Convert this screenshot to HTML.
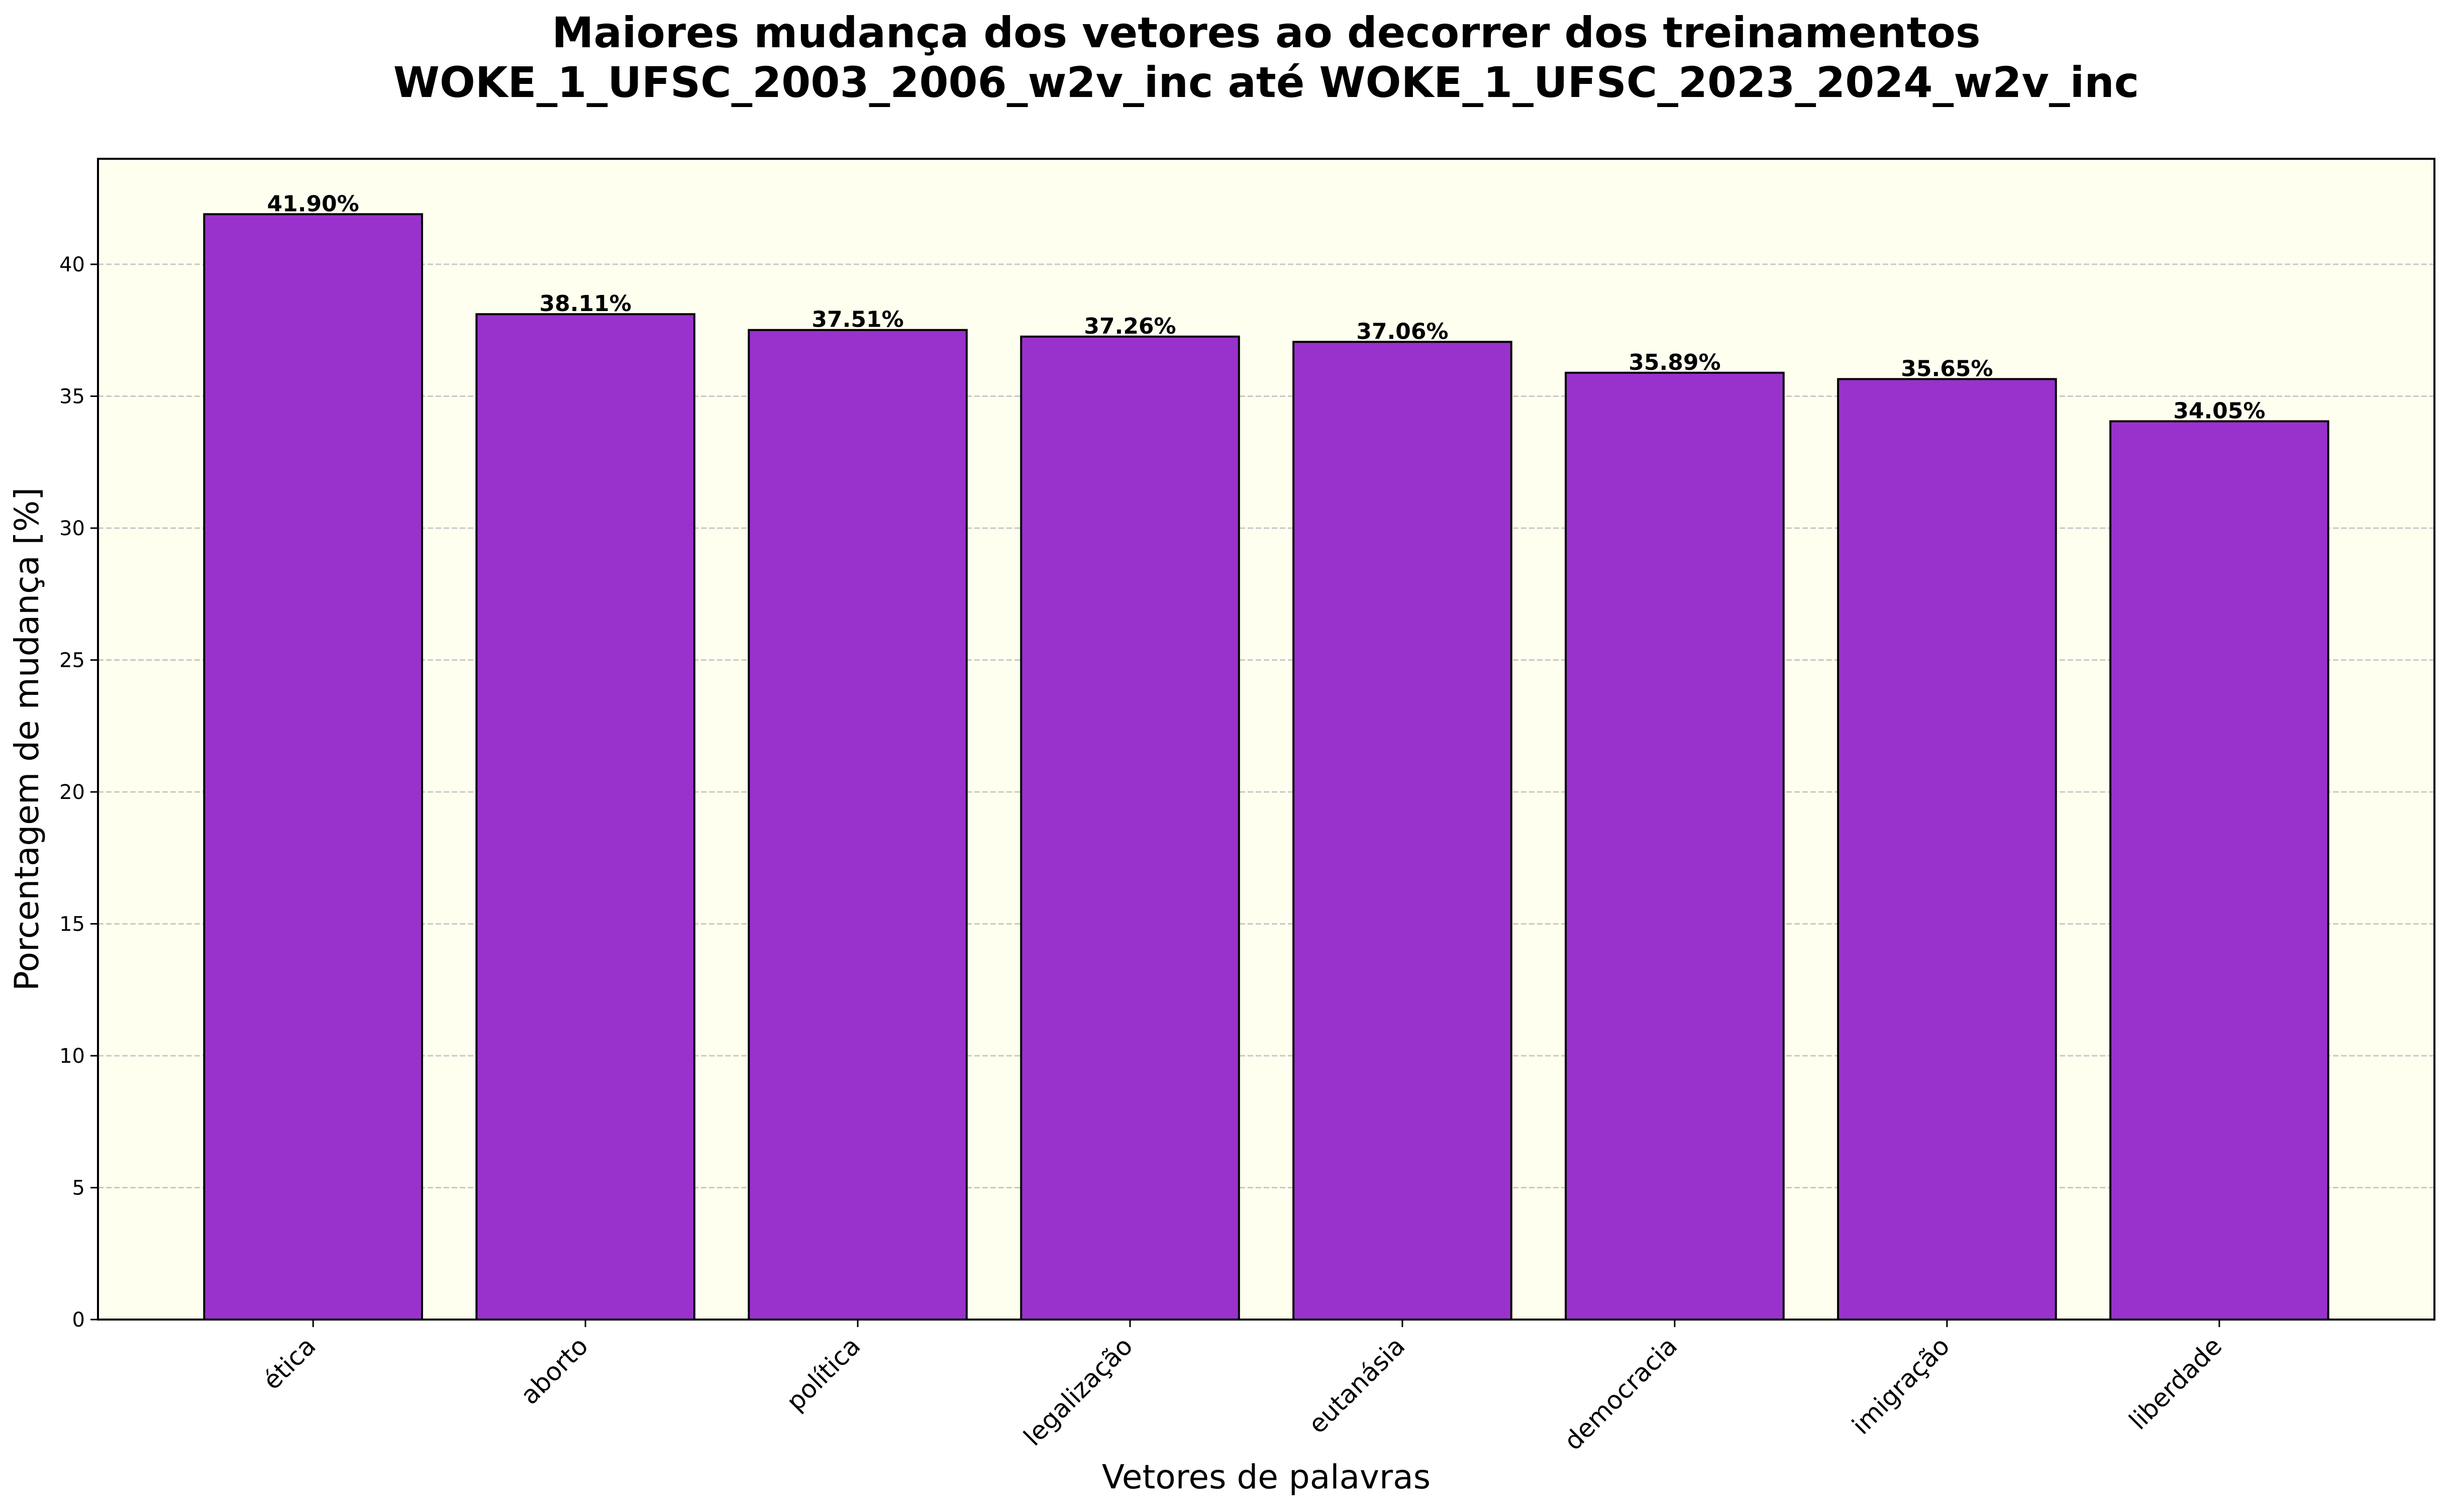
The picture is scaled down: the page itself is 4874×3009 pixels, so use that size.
<!DOCTYPE html>
<html><head><meta charset="utf-8"><style>
html,body{margin:0;padding:0;background:#fff;}
svg{display:block;font-family:"DejaVu Sans","Liberation Sans",sans-serif;}
</style></head><body>
<svg id="chart" width="4874" height="3009" viewBox="0 0 4874 3009" xmlns="http://www.w3.org/2000/svg">
<g font-weight="bold" font-size="83.5" text-anchor="middle">
<text x="2520" y="94">Maiores mudança dos vetores ao decorrer dos treinamentos</text>
<text x="2520" y="193">WOKE_1_UFSC_2003_2006_w2v_inc até WOKE_1_UFSC_2023_2024_w2v_inc</text>
</g>
<rect x="195" y="316" width="4650" height="2310" fill="#fffff0"/>
<g id="grid"></g>
<g id="bars"></g>
<g id="labels"></g>
<rect x="195" y="316" width="4650" height="2310" fill="none" stroke="#000" stroke-width="4"/>
<g id="yticks"></g>
<g id="xticks"></g>
<text transform="translate(76,1471) rotate(-90)" text-anchor="middle" font-size="66">Porcentagem de mudança [%]</text>
<text x="2520" y="2962" text-anchor="middle" font-size="66">Vetores de palavras</text>
</svg>
<script>
const categories = ["ética","aborto","política","legalização","eutanásia","democracia","imigração","liberdade"];
const values = [41.90,38.11,37.51,37.26,37.06,35.89,35.65,34.05];
const yTicks = [0,5,10,15,20,25,30,35,40];
const NS="http://www.w3.org/2000/svg";
const L=195,R=4845,T=316,B=2626,yMax=44;
const xMin=-0.79,xMax=categories.length-1+0.79;
const x=i=>L+(i-xMin)/(xMax-xMin)*(R-L);
const y=v=>B-v/yMax*(B-T);
const bw=(x(0.8)-x(0));
function mk(tag,attrs,parent){const e=document.createElementNS(NS,tag);for(const k in attrs)e.setAttribute(k,attrs[k]);document.getElementById(parent).appendChild(e);return e;}
yTicks.forEach(t=>{
  if(t>0){const g=mk('line',{x1:L,x2:R,y1:y(t),y2:y(t),stroke:'#c8c8c8','stroke-width':3,'stroke-dasharray':'11,5'},'grid');
  
  }
  const tk=mk('line',{x1:L-15,x2:L,y1:y(t),y2:y(t),stroke:'#000','stroke-width':3},'yticks');
  
  
  const tl=mk('text',{x:L-26,y:y(t)+14,'text-anchor':'end','font-size':40},'yticks');
  tl.textContent=t;
  
  
});
categories.forEach((c,i)=>{
  const v=values[i];
  const b=mk('rect',{x:x(i)-bw/2,y:y(v),width:bw,height:B-y(v),fill:'#9932cc',stroke:'#000','stroke-width':4},'bars');
  
  
  const lb=mk('text',{x:x(i),y:y(v)-6,'text-anchor':'middle','font-size':44,'font-weight':'bold'},'labels');
  lb.textContent=v.toFixed(2)+'%';
  
  
  const tk=mk('line',{x1:x(i),x2:x(i),y1:B,y2:B+15,stroke:'#000','stroke-width':3},'xticks');
  
  
  const tl=mk('text',{transform:`translate(${x(i)+8},${B+56}) rotate(-45)`,'text-anchor':'end','font-size':50},'xticks');
  tl.textContent=c;
  
  
});
</script>
</body></html>
